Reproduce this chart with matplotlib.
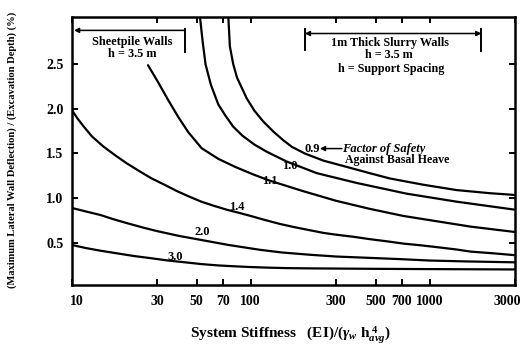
import matplotlib
matplotlib.use("Agg")
import matplotlib.pyplot as plt
import matplotlib.transforms as mtransforms
from matplotlib.ticker import FixedLocator, FixedFormatter, NullLocator

# ---- data ----
fs09_x = [75, 76.6, 80, 84, 95, 105, 117.5, 135, 152, 170, 201, 255, 344, 462, 600, 921, 1415, 2170, 3000]
fs09_y = [3.05, 2.70, 2.50, 2.35, 2.12, 1.98, 1.86, 1.74, 1.65, 1.575, 1.50, 1.42, 1.35, 1.28, 1.22, 1.15, 1.09, 1.055, 1.035]

fs10_x = [52, 54, 56, 60, 66, 72, 80, 90, 105, 123, 159, 234, 391, 743, 1415, 3000]
fs10_y = [3.05, 2.75, 2.50, 2.27, 2.05, 1.93, 1.80, 1.70, 1.60, 1.52, 1.41, 1.28, 1.17, 1.05, 0.96, 0.87]

fs11_x = [26.7, 30.4, 34.6, 39.4, 44.8, 53.2, 66, 82, 102, 126, 195, 300, 462, 713, 1100, 1700, 3000]
fs11_y = [2.49, 2.30, 2.10, 1.91, 1.74, 1.56, 1.44, 1.35, 1.27, 1.20, 1.08, 0.97, 0.88, 0.80, 0.74, 0.68, 0.62]

fs14_x = [10, 10.8, 11.7, 13, 15, 17.5, 20.3, 24, 28, 33, 38.6, 45, 53, 62, 73.5, 86, 100, 120, 146, 175, 214,
          255, 300, 380, 462, 580, 713, 900, 1100, 1400, 1700, 2300, 3000]
fs14_y = [1.99, 1.89, 1.80, 1.69, 1.58, 1.48, 1.39, 1.30, 1.22, 1.15, 1.08, 1.02, 0.96, 0.915, 0.87, 0.835, 0.80, 0.755,
          0.71, 0.675, 0.64, 0.61, 0.59, 0.565, 0.54, 0.515, 0.49, 0.47, 0.45, 0.425, 0.40, 0.38, 0.36]

fs20_x = [10, 12, 14.5, 17, 20.3, 25, 30, 40, 53.2, 75, 113, 150, 214, 300, 460, 700, 1000, 1600, 3000]
fs20_y = [0.89, 0.85, 0.81, 0.765, 0.72, 0.67, 0.63, 0.575, 0.53, 0.475, 0.42, 0.39, 0.365, 0.345, 0.33, 0.315, 0.30, 0.29, 0.28]

fs30_x = [10, 12, 14.5, 18, 22.4, 28, 34.6, 43, 53.2, 66, 82, 100, 126, 160, 214, 300, 500, 1000, 3000]
fs30_y = [0.475, 0.44, 0.41, 0.38, 0.35, 0.325, 0.30, 0.28, 0.26, 0.245, 0.235, 0.227, 0.22, 0.215, 0.212, 0.21, 0.207, 0.204, 0.20]

curve_labels = ["1.0", "1.1", "1.4", "2.0", "3.0"]
label_x = [166, 128, 84, 53.4, 37.8]
label_y = [1.36, 1.195, 0.90, 0.62, 0.335]

x_ticks = [10, 30, 50, 70, 100, 300, 500, 700, 1000, 3000]
x_ticklabels = ["10", "30", "50", "70", "100", "300", "500", "700", "1000", "3000"]
y_ticks = [0.5, 1.0, 1.5, 2.0, 2.5]
y_ticklabels = ["0.5", "1.0", "1.5", "2.0", "2.5"]

# ---- styling ----
plt.rcParams["font.family"] = ["Liberation Serif", "DejaVu Serif"]
plt.rcParams["font.weight"] = "bold"
plt.rcParams["mathtext.fontset"] = "custom"
plt.rcParams["mathtext.rm"] = "Liberation Serif:bold"
plt.rcParams["mathtext.it"] = "Liberation Serif:italic:bold"
plt.rcParams["mathtext.bf"] = "Liberation Serif:bold"

fig = plt.figure(figsize=(5.27, 3.47), dpi=100)
ax = fig.add_axes([0.136, 0.179, 0.841, 0.772])

lw = 1.6
for xs, ys in [(fs09_x, fs09_y), (fs10_x, fs10_y), (fs11_x, fs11_y),
               (fs14_x, fs14_y), (fs20_x, fs20_y), (fs30_x, fs30_y)]:
    ax.plot(xs, ys, color="black", lw=lw, solid_capstyle="round", solid_joinstyle="round")

ax.set_xscale("log")
ax.set_xlim(10, 3000)
ax.set_ylim(0.027, 3.03)

ax.xaxis.set_major_locator(FixedLocator(x_ticks))
ax.xaxis.set_major_formatter(FixedFormatter(x_ticklabels))
ax.xaxis.set_minor_locator(NullLocator())
ax.yaxis.set_major_locator(FixedLocator(y_ticks))
ax.yaxis.set_major_formatter(FixedFormatter(y_ticklabels))
ax.tick_params(axis="both", which="major", direction="in", length=4, width=1.4,
               top=True, right=True, labelsize=10)
ax.tick_params(axis="x", pad=7)
ax.tick_params(axis="y", pad=6)
for lab in ax.get_xticklabels() + ax.get_yticklabels():
    lab.set_fontweight("bold")
for sp in ax.spines.values():
    sp.set_linewidth(1.8)

# nudge edge tick labels inward like the reference
xlabels = ax.get_xticklabels()
xlabels[0].set_transform(xlabels[0].get_transform() +
                         mtransforms.ScaledTranslation(5 / 100, 0, fig.dpi_scale_trans))
xlabels[-1].set_transform(xlabels[-1].get_transform() +
                          mtransforms.ScaledTranslation(-8 / 100, 0, fig.dpi_scale_trans))

# curve labels
for t, lx, ly in zip(curve_labels, label_x, label_y):
    ax.text(lx, ly, t, fontsize=9, fontweight="bold", ha="center", va="center")

# 0.9 + Factor of Safety note
ax.text(201, 1.555, "0.9", fontsize=9, fontweight="bold", ha="left", va="center")
ax.annotate("", xy=(244, 1.555), xytext=(324, 1.555),
            arrowprops=dict(arrowstyle="-|>", color="black", lw=1.1,
                            mutation_scale=7, shrinkA=0, shrinkB=0))
ax.text(324, 1.555, "Factor of Safety", fontsize=9, fontweight="bold",
        style="italic", ha="left", va="center")
ax.text(660, 1.427, "Against Basal Heave", fontsize=8.6, fontweight="bold",
        ha="center", va="center")

# Sheetpile walls bracket
ax.annotate("", xy=(10.3, 2.88), xytext=(43, 2.88),
            arrowprops=dict(arrowstyle="-|>", color="black", lw=1.1,
                            mutation_scale=7, shrinkA=0, shrinkB=0))
ax.plot([43, 43], [2.90, 2.64], color="black", lw=1.4)
ax.text(21.9, 2.754, "Sheetpile Walls", fontsize=8.8, fontweight="bold",
        ha="center", va="center")
ax.text(21.9, 2.62, "h = 3.5 m", fontsize=8.8, fontweight="bold",
        ha="center", va="center")

# Slurry walls bracket
ax.annotate("", xy=(201, 2.845), xytext=(1950, 2.845),
            arrowprops=dict(arrowstyle="<|-|>", color="black", lw=1.1,
                            mutation_scale=7, shrinkA=0, shrinkB=0))
ax.plot([201, 201], [2.90, 2.66], color="black", lw=1.4)
ax.plot([1950, 1950], [2.90, 2.65], color="black", lw=1.4)
ax.text(600, 2.742, "1m Thick Slurry Walls", fontsize=8.7, fontweight="bold",
        ha="center", va="center")
ax.text(595, 2.60, "h = 3.5 m", fontsize=8.7, fontweight="bold",
        ha="center", va="center")
ax.text(611, 2.45, "h = Support Spacing", fontsize=8.7, fontweight="bold",
        ha="center", va="center")

# axis labels
fig.text(0.551, 0.035, r"System Stiffness   (EI)/($\gamma_{w}$ h$_{avg}^{\ 4}$)",
         fontsize=11, fontweight="bold", ha="center", va="center")
fig.text(0.024, 0.568, "(Maximum Lateral Wall Deflection) / (Excavation Depth) (%)",
         fontsize=7.6, fontweight="bold", rotation=90, ha="center", va="center")

fig.savefig("out.png", dpi=100)
